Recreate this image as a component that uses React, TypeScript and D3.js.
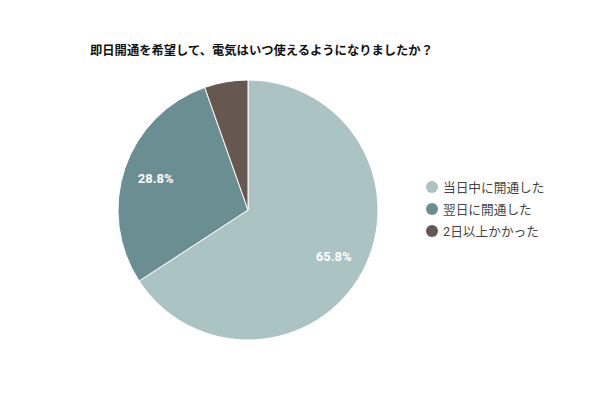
import { useMemo } from "react";
import * as d3 from "d3";

const TITLE = "即日開通を希望して、電気はいつ使えるようになりましたか？";
const CATEGORIES = ["当日中に開通した", "翌日に開通した", "2日以上かかった"];
const VALUES = [65.8, 28.8, 5.4];
const COLORS = ["#abc3c3", "#6b8e92", "#665850"];
const SHOW_LABEL = [true, true, false];

const FONT = "Roboto, 'Noto Sans CJK JP', sans-serif";

export default function App() {
  const width = 600;
  const height = 400;
  const cx = 248;
  const cy = 210;
  const radius = 130;

  const arcs = useMemo(
    () =>
      d3
        .pie<number>()
        .sort(null)
        .value((d) => d)(VALUES),
    []
  );

  const arc = d3.arc<d3.PieArcDatum<number>>().innerRadius(0).outerRadius(radius);
  const labelArc = d3
    .arc<d3.PieArcDatum<number>>()
    .innerRadius(radius * 0.75)
    .outerRadius(radius * 0.75);

  const legendY = d3.scalePoint<string>().domain(CATEGORIES).range([187, 231]);

  return (
    <div style={{ position: "fixed", left: 0, top: 0 }}>
      <svg width={width} height={height} style={{ display: "block", background: "#fff" }}>
        <text
          x={90}
          y={55}
          fontFamily={FONT}
          fontSize={12.3}
          fontWeight="bold"
          fill="#111"
        >
          {TITLE}
        </text>
        <g transform={`translate(${cx},${cy})`}>
          {arcs.map((a, i) => (
            <path key={i} d={arc(a) ?? ""} fill={COLORS[i]} stroke="#fff" strokeWidth={1} />
          ))}
          {arcs.map((a, i) => {
            if (!SHOW_LABEL[i]) return null;
            const [lx, ly] = labelArc.centroid(a);
            return (
              <text
                key={i}
                x={lx}
                y={ly}
                textAnchor="middle"
                dominantBaseline="central"
                fontFamily={FONT}
                fontSize={13}
                fontWeight="bold"
                fill="#fff"
              >
                {VALUES[i].toFixed(1)}%
              </text>
            );
          })}
        </g>
        <g>
          {CATEGORIES.map((c, i) => (
            <g key={c} transform={`translate(432,${legendY(c)})`}>
              <circle r={6} fill={COLORS[i]} />
              <text
                x={11}
                y={0}
                dominantBaseline="central"
                fontFamily={FONT}
                fontSize={12.7}
                fill="#444"
              >
                {c}
              </text>
            </g>
          ))}
        </g>
      </svg>
    </div>
  );
}
